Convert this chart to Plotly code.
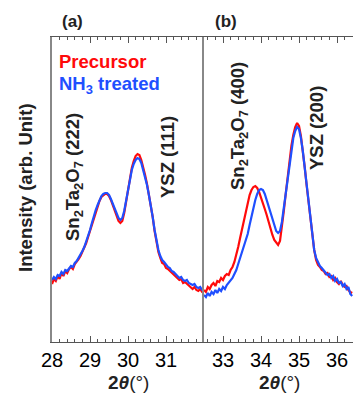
import plotly.graph_objects as go

# ---------------- data ----------------
x_a = [round(28.0 + 0.05 * i, 2) for i in range(81)]
blue_a = [62, 65, 63, 67, 66, 70, 68, 72, 71, 74, 76, 75, 79, 81, 84, 87, 91, 95, 100, 106,
          112, 119, 126, 132, 137, 142, 146, 148, 149, 149, 147, 143, 138, 133, 128, 124, 122, 124, 131, 141,
          153, 163, 172, 178, 182, 184, 183, 179, 172, 165, 157, 147, 137, 125, 112, 100, 92, 86, 82, 80,
          77, 75, 74, 71, 70, 68, 67, 64, 65, 62, 61, 62, 59, 58, 57, 58, 55, 54, 55, 52, 51]
red_a = [58, 63, 61, 66, 63, 69, 66, 71, 69, 73, 75, 73, 78, 80, 83, 86, 90, 94, 99, 105,
         111, 118, 125, 131, 136, 141, 145, 147, 148, 148, 146, 142, 137, 131, 126, 121, 119, 121, 129, 140,
         153, 164, 174, 181, 186, 188, 187, 182, 175, 167, 158, 148, 137, 125, 111, 99, 90, 84, 79, 78,
         74, 73, 71, 69, 68, 66, 64, 62, 63, 59, 60, 58, 56, 55, 53, 55, 52, 51, 53, 50, 49]

x_b = [round(32.5 + 0.05 * i, 2) for i in range(79)]
red_b = [52, 50, 55, 53, 57, 59, 56, 61, 60, 64, 62, 66, 68, 67, 72, 75, 80, 87, 95, 104,
         113, 122, 131, 140, 147, 152, 155, 156, 154, 150, 145, 139, 133, 127, 120, 113, 107, 102, 99, 97,
         101, 114, 131, 148, 165, 182, 196, 207, 215, 219, 216, 206, 192, 175, 157, 140, 124, 106, 92, 82,
         77, 75, 72, 71, 68, 69, 65, 66, 62, 64, 60, 58, 61, 57, 55, 56, 52, 50, 49]
blue_b = [47, 45, 49, 46, 50, 48, 52, 49, 53, 51, 55, 53, 57, 59, 61, 64, 68, 72, 78, 84,
          90, 96, 100, 108, 117, 126, 134, 142, 148, 152, 153, 152, 148, 142, 136, 129, 122, 116, 111, 109,
          111, 120, 134, 149, 165, 180, 193, 204, 211, 215, 213, 204, 191, 174, 156, 139, 122, 105, 92, 84,
          79, 76, 74, 72, 70, 67, 68, 64, 66, 61, 63, 59, 60, 56, 58, 53, 55, 48, 46]

ticks_a = [28, 29, 30, 31]
ticks_b = [33, 34, 35, 36]
series_names = ["Precursor", "NH<sub>3</sub> treated"]
peak_labels = ["Sn<sub>2</sub>Ta<sub>2</sub>O<sub>7</sub> (222)", "YSZ (111)",
               "Sn<sub>2</sub>Ta<sub>2</sub>O<sub>7</sub> (400)", "YSZ (200)"]

RED = "#ff0a0a"
BLUE = "#1f4fff"
FONT = "Liberation Sans, Arial, sans-serif"
TXT = "#222"

fig = go.Figure()
fig.add_trace(go.Scatter(x=x_a, y=red_a, mode="lines", line=dict(color=RED, width=2.2),
                         xaxis="x", yaxis="y", showlegend=False))
fig.add_trace(go.Scatter(x=x_a, y=blue_a, mode="lines", line=dict(color=BLUE, width=2.2),
                         xaxis="x", yaxis="y", showlegend=False))
fig.add_trace(go.Scatter(x=x_b, y=red_b, mode="lines", line=dict(color=RED, width=2.2),
                         xaxis="x2", yaxis="y2", showlegend=False))
fig.add_trace(go.Scatter(x=x_b, y=blue_b, mode="lines", line=dict(color=BLUE, width=2.2),
                         xaxis="x2", yaxis="y2", showlegend=False))

split = 152 / 301
xcommon = dict(showline=True, linecolor="#555", linewidth=1, mirror="ticks",
               ticks="inside", ticklen=6, tickcolor="#555", tickwidth=1,
               showgrid=False, zeroline=False, automargin=False,
               tickfont=dict(family=FONT, size=20, color="black"),
               minor=dict(ticks="inside", ticklen=3, tickcolor="#555", dtick=0.2, tick0=28, showgrid=False))
ycommon = dict(range=[0, 305], showticklabels=False, ticks="", showgrid=False, zeroline=False,
               showline=True, linecolor="#888", linewidth=1.5, automargin=False)
fig.update_layout(
    width=353, height=393,
    margin=dict(l=52, r=0, t=37, b=51, autoexpand=False),
    paper_bgcolor="white", plot_bgcolor="white",
    xaxis=dict(domain=[0, split], range=[28, 32], tickvals=ticks_a, anchor="y", **xcommon),
    xaxis2=dict(domain=[split, 1], range=[32.5, 32.5 + 149 / 38], tickvals=ticks_b, anchor="y2", **xcommon),
    yaxis=dict(anchor="x", **ycommon),
    yaxis2=dict(anchor="x2", **ycommon),
)

def py(p):
    return (342 - p) / 305

def px(p):
    return (p - 52) / 301

ann = [
    dict(text="<b>2<i>θ</i></b>(°)", x=px(128), y=py(382), font=dict(family=FONT, size=19, color=TXT)),
    dict(text="<b>2<i>θ</i></b>(°)", x=px(279), y=py(382), font=dict(family=FONT, size=19, color=TXT)),
    dict(text="<b>Intensity (arb. Unit)</b>", x=px(26), y=py(188), textangle=-90,
         font=dict(family=FONT, size=18.5, color=TXT)),
    dict(text="<b>(a)</b>", x=px(72), y=py(22), font=dict(family=FONT, size=17, color=TXT)),
    dict(text="<b>(b)</b>", x=px(226), y=py(22), font=dict(family=FONT, size=17, color=TXT)),
    dict(text="<b>" + series_names[0] + "</b>", x=px(57), y=py(62), xanchor="left",
         font=dict(family=FONT, size=18.5, color=RED)),
    dict(text="<b>" + series_names[1] + "</b>", x=px(57), y=py(85), xanchor="left",
         font=dict(family=FONT, size=18.5, color=BLUE)),
    dict(text="<b>" + peak_labels[0] + "</b>", x=px(74), y=py(177), textangle=-90,
         font=dict(family=FONT, size=18.5, color=TXT)),
    dict(text="<b>" + peak_labels[1] + "</b>", x=px(167), y=py(157), textangle=-90,
         font=dict(family=FONT, size=18.5, color=TXT)),
    dict(text="<b>" + peak_labels[2] + "</b>", x=px(239), y=py(126), textangle=-90,
         font=dict(family=FONT, size=18.5, color=TXT)),
    dict(text="<b>" + peak_labels[3] + "</b>", x=px(317), y=py(128), textangle=-90,
         font=dict(family=FONT, size=18.5, color=TXT)),
]
for a in ann:
    a.setdefault("xanchor", "center")
    a.update(xref="paper", yref="paper", showarrow=False, yanchor="middle")
fig.update_layout(annotations=ann)

fig.write_html("out.html", config={"displayModeBar": False})

# remove the default page margin so the figure sits at the window's top-left corner
with open("out.html", "r", encoding="utf-8") as f:
    html = f.read()
html = html.replace("<head>", "<head><style>html,body{margin:0;padding:0;overflow:hidden;}</style>", 1)
with open("out.html", "w", encoding="utf-8") as f:
    f.write(html)
